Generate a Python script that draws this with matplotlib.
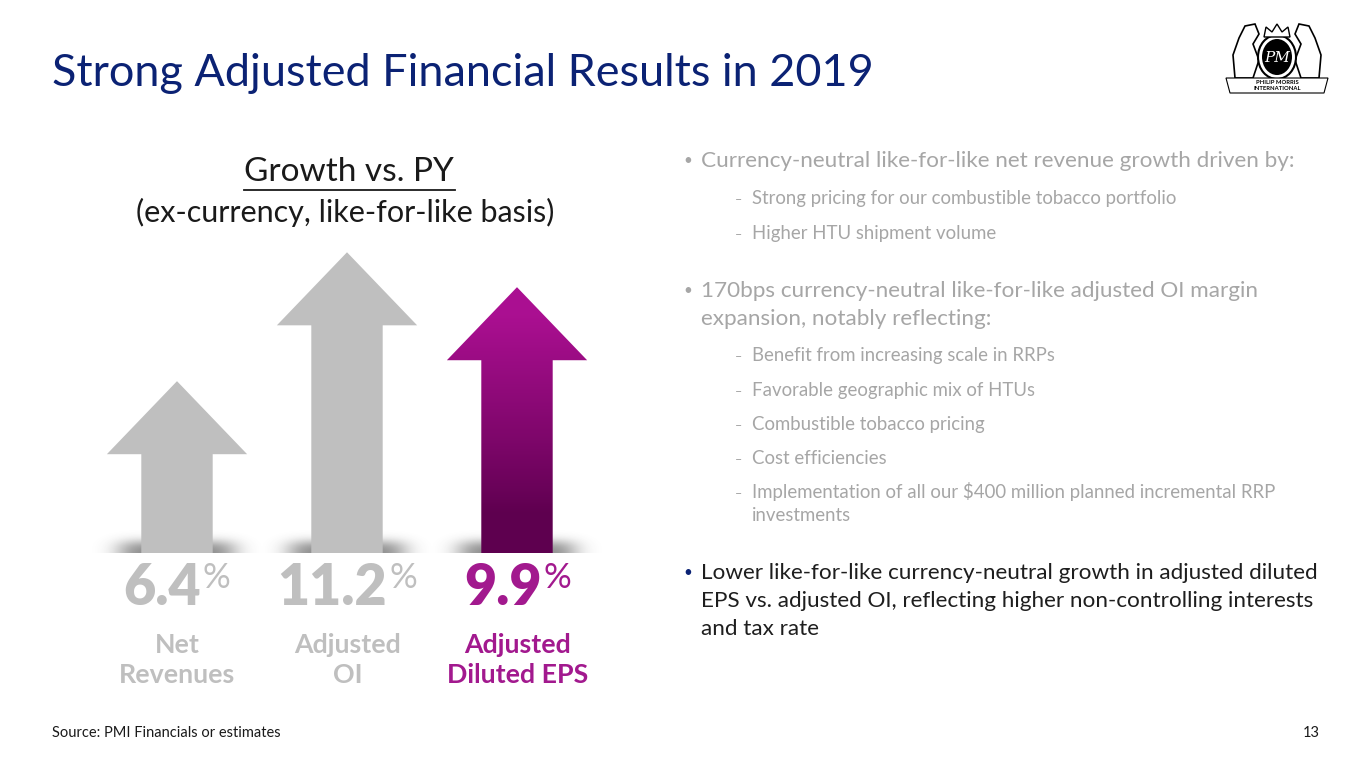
import math
import numpy as np
import matplotlib.pyplot as plt
from matplotlib.patches import Polygon, Ellipse

plt.rcParams['font.family'] = ['Lato', 'DejaVu Sans']

# chart data
metrics = ['Net\nRevenues', 'Adjusted\nOI', 'Adjusted\nDiluted EPS']
growth = [6.4, 11.2, 9.9]
highlight = [False, False, True]

# bullet text: (level, text)
bullet_lines = [
    (1, 'Currency-neutral like-for-like net revenue growth driven by:'),
    (2, 'Strong pricing for our combustible tobacco portfolio'),
    (2, 'Higher HTU shipment volume'),
    (1, '170bps currency-neutral like-for-like adjusted OI margin\nexpansion, notably reflecting:'),
    (2, 'Benefit from increasing scale in RRPs'),
    (2, 'Favorable geographic mix of HTUs'),
    (2, 'Combustible tobacco pricing'),
    (2, 'Cost efficiencies'),
    (2, 'Implementation of all our $400 million planned incremental RRP\ninvestments'),
    (3, 'Lower like-for-like currency-neutral growth in adjusted diluted\nEPS vs. adjusted OI, reflecting higher non-controlling interests\nand tax rate'),
]
bullet_y = [159, 198, 233, 289, 355, 390, 424, 458, 492, 571]

NAVY = '#0B2274'
GRAY = '#BFBFBF'
TXT_GRAY = '#A6A6A6'
PURPLE = '#A2198E'

fig = plt.figure(figsize=(13.65, 7.68), dpi=100)
fig.patch.set_facecolor('white')

# page layer in pixel units
bg = fig.add_axes([0, 0, 1, 1])
bg.set_xlim(0, 1365)
bg.set_ylim(768, 0)
bg.axis('off')

bg.text(52, 73, 'Strong Adjusted Financial Results in 2019', fontsize=32.4,
        color=NAVY, va='center', ha='left')

bg.text(349, 172, 'Growth vs. PY', fontsize=24, color='#1a1a1a',
        va='center', ha='center')
bg.plot([244, 455], [190, 190], color='#1a1a1a', lw=1.3)
bg.text(345, 212, '(ex-currency, like-for-like basis)', fontsize=22,
        color='#1a1a1a', va='center', ha='center')

# bullets, one text per line
for (lvl, txt), y in zip(bullet_lines, bullet_y):
    if lvl == 2:
        bg.text(735, y + 6, '\u2013', fontsize=9, color=TXT_GRAY, va='baseline')
        for k, line in enumerate(txt.split('\n')):
            bg.text(752, y + 6 + 23 * k, line, fontsize=13.4, color=TXT_GRAY,
                    va='baseline')
    else:
        col = TXT_GRAY if lvl == 1 else '#1e1e1e'
        dot = TXT_GRAY if lvl == 1 else NAVY
        bg.text(683, y + 6, '\u2022', fontsize=11, color=dot, va='baseline')
        for k, line in enumerate(txt.split('\n')):
            bg.text(701, y + 8 + 28 * k, line, fontsize=16.2, color=col,
                    va='baseline')

bg.text(52, 733, 'Source: PMI Financials or estimates', fontsize=10.5,
        color='#1a1a1a', va='center', ha='left')
bg.text(1320, 733, '13', fontsize=10.5, color='#1a1a1a', va='center', ha='right')

# rough logo
for cx, s in ((1247, 1), (1307, -1)):
    bg.add_patch(Polygon([[cx - 12 * s, 78], [cx - 14 * s, 55], [cx - 8 * s, 38],
                          [cx - 2 * s, 26], [cx + 8 * s, 24], [cx + 12 * s, 34],
                          [cx + 6 * s, 44], [cx + 12 * s, 60], [cx + 6 * s, 78]],
                         closed=True, fc='white', ec='black', lw=1.2))
bg.add_patch(Ellipse((1277, 57), 38, 44, facecolor='white', edgecolor='black', lw=1.5))
bg.add_patch(Ellipse((1277, 57), 30, 36, facecolor='black'))
bg.text(1277, 58, 'PM', fontsize=11, color='white', ha='center', va='center',
        family='DejaVu Serif', style='italic')
bg.add_patch(Polygon([[1264, 37], [1266, 27], [1272, 32], [1277, 24], [1282, 32],
                      [1288, 27], [1290, 37]], closed=True, fc='white', ec='black', lw=1))
bg.add_patch(Polygon([[1226, 78], [1328, 78], [1324, 93], [1230, 93]], closed=True,
                     fc='white', ec='black', lw=0.8))
bg.text(1277, 82, 'PHILIP MORRIS', fontsize=4.2, ha='center', va='center', weight='bold')
bg.text(1277, 89, 'INTERNATIONAL', fontsize=4.2, ha='center', va='center', weight='bold')

# arrow chart
ax = fig.add_axes([92 / 1365, (768 - 553) / 768, 510 / 1365, 322.2 / 768])
ax.set_xlim(-0.5, 2.5)
ax.set_ylim(0, 12)
ax.axis('off')

shaft_w = 0.42
head_w = 0.825
head_len = 2.72

erf = np.vectorize(math.erf)


def soft_box(v, lo, hi, s):
    return 0.5 * (erf((v - lo) / s) - erf((v - hi) / s))


for i, (val, hl) in enumerate(zip(growth, highlight)):
    # base shadow
    xs = np.linspace(i - 0.5, i + 0.5, 200)
    ys = np.linspace(0, 1.2, 60)
    X, Y = np.meshgrid(xs, ys)
    a = 0.6 * soft_box(X, i - 0.33, i + 0.33, 0.1) * soft_box(Y, -1.0, 0.4, 0.25)
    rgba = np.zeros(X.shape + (4,))
    rgba[..., :3] = 0.25
    rgba[..., 3] = a
    ax.imshow(rgba, extent=[i - 0.5, i + 0.5, 0, 1.2], origin='lower',
              aspect='auto', zorder=1, interpolation='bilinear')

    pts = [(i - shaft_w / 2, 0), (i - shaft_w / 2, val - head_len),
           (i - head_w / 2, val - head_len), (i, val),
           (i + head_w / 2, val - head_len), (i + shaft_w / 2, val - head_len),
           (i + shaft_w / 2, 0)]
    if hl:
        poly = Polygon(pts, closed=True, facecolor='none', edgecolor='none')
        ax.add_patch(poly)
        g = np.linspace(0, 1, 256)[:, None]
        top = np.array([0.67, 0.06, 0.57])
        bot = np.array([0.37, 0.0, 0.31])
        w = np.clip((g - 0.15) / 0.75, 0, 1) ** 0.9
        cols = bot + (top - bot) * w
        img = np.repeat(cols[:, None, :], 2, axis=1)
        im = ax.imshow(img, extent=[i - head_w / 2, i + head_w / 2, 0, val],
                       origin='lower', aspect='auto', zorder=2)
        im.set_clip_path(poly)
    else:
        ax.add_patch(Polygon(pts, closed=True, facecolor=GRAY, edgecolor='none',
                             zorder=2))

# value and label text under arrows
fig.canvas.draw()
r = fig.canvas.get_renderer()
for i, (val, name, hl) in enumerate(zip(growth, metrics, highlight)):
    col = PURPLE if hl else GRAY
    xc = 177 + i * 170.3
    num = bg.text(0, 588, f'{val:.1f}', fontsize=40, weight='heavy', color=col,
                  va='center', ha='left')
    pct = bg.text(0, 578, '%', fontsize=25, color=col, va='center', ha='left')
    wn = num.get_window_extent(r).width
    wp = pct.get_window_extent(r).width
    x0 = xc - (wn + wp + 2) / 2
    num.set_x(x0)
    pct.set_x(x0 + wn + 2)
    bg.text(xc, 660, name, fontsize=19.3, weight='bold', color=col, ha='center',
            va='center', linespacing=1.34)

fig.savefig('out.png', dpi=100, facecolor='white')
